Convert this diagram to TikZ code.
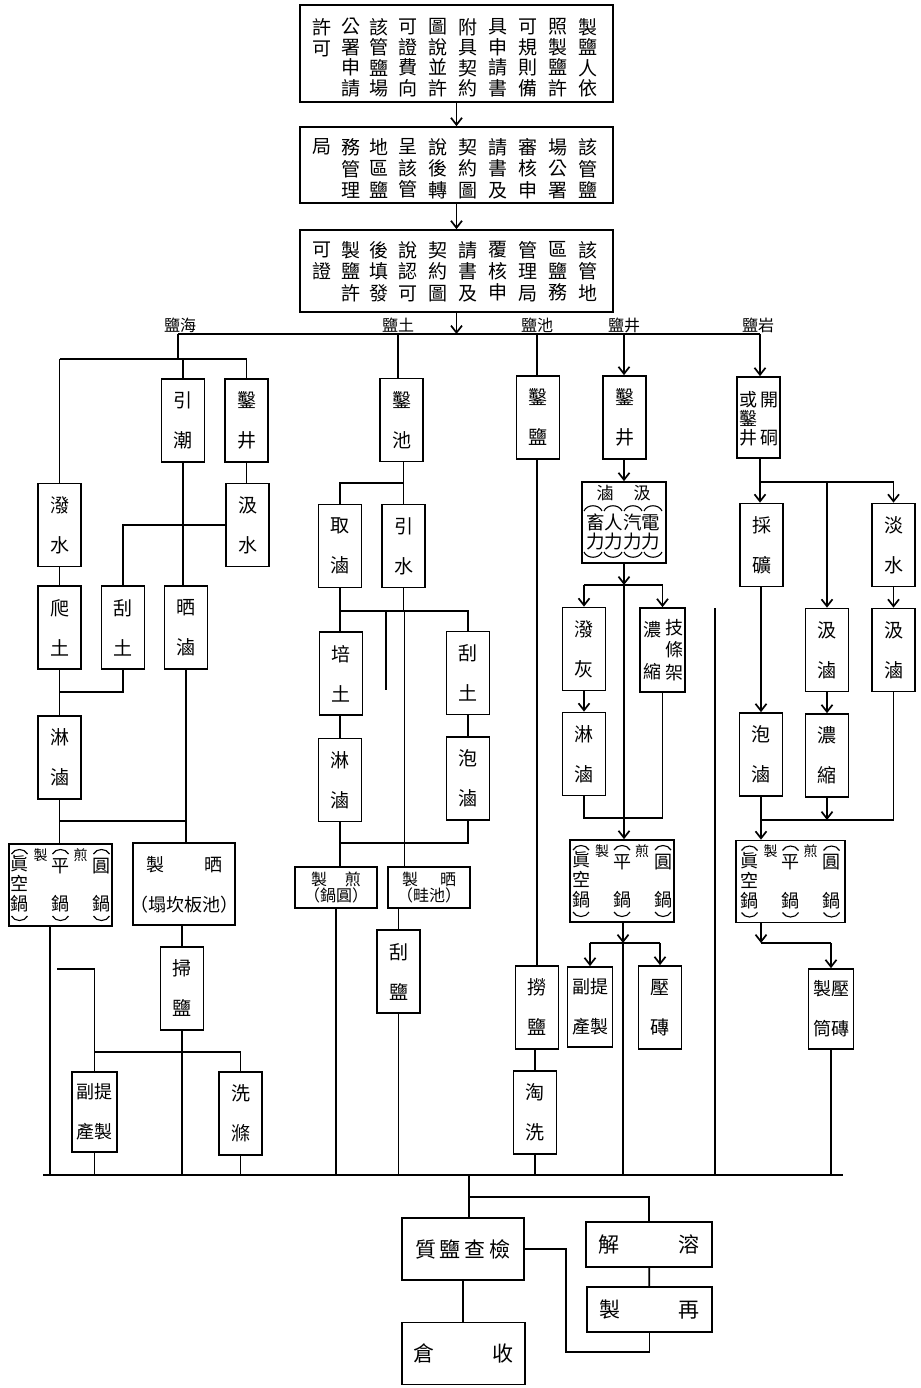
\documentclass[tikz,border=0pt]{standalone}
\usepackage{fontspec}
\setmainfont{Noto Sans CJK TC}
\usetikzlibrary{arrows.meta,calc}
\newcommand\jianbox[4]{%
  \node[bx,minimum width=#4pt,minimum height=82pt] (#1) at (#2,#3) {};
  \begin{scope}[shift={(#2,#3)}]
    \node[ch] (#1a) at (-41,-1) {眞\\空\\鍋};
    \node[ch] (#1b) at (0,-19) {平};
    \node[ch] (#1c) at (0,19) {鍋};
    \node[ch] (#1d) at (41,-19) {圓};
    \node[ch] (#1e) at (41,19) {鍋};
    \node[sm] (#1f) at (-20,-30) {製};
    \node[sm] (#1g) at (20,-30) {煎};
    \foreach \dx in {-41,0,41} {
      \draw[arc] (\dx-8,-31) .. controls (\dx-5,-37) and (\dx+5,-37) .. (\dx+8,-31);
      \draw[arc] (\dx-8,31) .. controls (\dx-5,37) and (\dx+5,37) .. (\dx+8,31);
    }
  \end{scope}}
\begin{document}
\begin{tikzpicture}[x=1pt,y=-1pt,
  ln/.style={line width=1.7pt},
  arr/.style={line width=1.7pt,-{Straight Barb[length=7pt,width=11pt]}},
  bx/.style={draw,line width=1.7pt,inner sep=0pt,align=center},
  v2/.style={bx,minimum width=43pt,minimum height=83pt,font=\fontsize{19}{40}\selectfont},
  q2/.style={bx,minimum width=45pt,minimum height=80pt,font=\fontsize{18}{40}\selectfont},
  col/.style={inner sep=0pt,align=center,font=\fontsize{19}{20.5}\selectfont},
  colb/.style={inner sep=0pt,align=center,font=\fontsize{19}{21.5}\selectfont},
  lbl/.style={inner sep=0pt,font=\fontsize{16}{16}\selectfont},
  ch/.style={inner sep=0pt,align=center,font=\fontsize{18}{20}\selectfont},
  sm/.style={inner sep=0pt,font=\fontsize{14}{14}\selectfont},
  arc/.style={line width=1.1pt},
  hb/.style={bx,font=\fontsize{21}{21}\selectfont}
]
\useasboundingbox (0,0) rectangle (920,1388);

% ---------- top three boxes ----------
\node[bx,minimum width=313pt,minimum height=97pt] (b1) at (456.5,53.5) {};
\node[bx,minimum width=313pt,minimum height=76pt] (b2) at (456.5,165) {};
\node[bx,minimum width=313pt,minimum height=82pt] (b3) at (456.5,271) {};

\foreach \x/\t [count=\i] in {588/{製\\鹽\\人\\依},558/{照\\製\\鹽\\許},528/{可\\規\\則\\備},498/{具\\申\\請\\書},468/{附\\具\\契\\約},438/{圖\\說\\並\\許},408/{可\\證\\費\\向},379/{該\\管\\鹽\\場},351/{公\\署\\申\\請}}
  \node[col] (ba\i) at (\x,57.75) {\t};
\node[col] (ba10) at (322,37.5) {許\\可};

\foreach \x/\t [count=\i] in {588/{該\\管\\鹽},558/{場\\公\\署},528/{審\\核\\申},498/{請\\書\\及},468/{契\\約\\圖},438/{說\\後\\轉},408/{呈\\該\\管},379/{地\\區\\鹽},351/{務\\管\\理}}
  \node[colb] (bb\i) at (\x,168.5) {\t};
\node[colb] (bb10) at (322,147) {局};

\foreach \x/\t [count=\i] in {588/{該\\管\\地},558/{區\\鹽\\務},528/{管\\理\\局},498/{覆\\核\\申},468/{請\\書\\及},438/{契\\約\\圖},408/{說\\認\\可},379/{後\\填\\發},351/{製\\鹽\\許}}
  \node[colb] (bc\i) at (\x,271.5) {\t};
\node[colb] (bc10) at (322,261) {可\\證};

\coordinate (hm) at (456.5,334);
\draw[arr] (b1) -- (b2);
\draw[arr] (b2) -- (b3);
\draw[arr] (b3) -- (hm);

% ---------- main distribution line ----------
\coordinate (hai) at (178,334);
\coordinate (tu) at (398,334);
\coordinate (chi) at (537,334);
\coordinate (jing) at (624,334);
\coordinate (yan) at (760,334);
\draw[ln] (hai) -- (yan);
\node[lbl] (lhai) at (180,325) {鹽海};
\node[lbl] (ltu) at (398,325) {鹽土};
\node[lbl] (lchi) at (537,325) {鹽池};
\node[lbl] (ljing) at (624,325) {鹽井};
\node[lbl] (lyan) at (758,325) {鹽岩};

% ---------- sea salt ----------
\coordinate (hai2) at (178,359);
\draw[ln] (hai) -- (hai2);
\node[v2] (poshui) at (59.5,525) {潑\\水};
\node[v2] (yinchao) at (183,420.5) {引\\潮};
\node[v2] (zaojing1) at (246.5,420.5) {鑿\\井};
\draw[ln] (poshui.north |- hai2) -- (zaojing1.north |- hai2);
\draw[ln] (poshui.north |- hai2) -- (poshui.north);
\draw[ln] (yinchao.north |- hai2) -- (yinchao.north);
\draw[ln] (zaojing1.north |- hai2) -- (zaojing1.north);
\node[v2] (jishui1) at (247.5,525) {汲\\水};
\draw[ln] (zaojing1.south) -- (zaojing1.south |- jishui1.north);
\node[v2] (patu) at (59.5,627.5) {爬\\土};
\node[v2] (guatu1) at (123,627.5) {刮\\土};
\node[v2] (shailu) at (186,627.5) {晒\\滷};
\draw[ln] (poshui) -- (patu);
\draw[ln] (jishui1.west) -| (guatu1.north);
\draw[ln] (yinchao.south) -- (yinchao.south |- shailu.north);
\node[v2] (linlu1) at (59.5,757.5) {淋\\滷};
\draw[ln] (patu) -- (linlu1);
\coordinate (j3) at (59.5,692);
\draw[ln] (guatu1.south) |- (j3);
\jianbox{jian1}{60.5}{885}{103}
\draw[ln] (linlu1.south) -- (linlu1.south |- jian1.north);
\node[bx,minimum width=102pt,minimum height=82pt] (zhishai1) at (184,884) {};
\node[ch] (zs1a) at (155,865) {製};
\node[ch] (zs1b) at (213,865) {晒};
\node[ch] (zs1c) at (184,905) {（塌坎板池）};
\draw[ln] (shailu.south) -- (shailu.south |- zhishai1.north);
\coordinate (j4) at (186,821);
\draw[ln] (linlu1.south |- j4) -- (j4);
\node[v2] (saoyan) at (182,988.5) {掃\\鹽};
\draw[ln] (zhishai1.south -| saoyan) -- (saoyan.north);
\node[q2] (futi1) at (94.5,1112) {副提\\產製};
\node[v2] (xidi) at (240.5,1113.5) {洗\\滌};
\coordinate (j5) at (182,1052);
\coordinate (bot) at (43,1175);
\coordinate (botR) at (843,1175);
\draw[ln] (bot) -- (botR);
\draw[ln] (saoyan.south) -- (j5);
\draw[ln] (futi1.north |- j5) -- (xidi.north |- j5);
\draw[ln] (xidi.north |- j5) -- (xidi.north);
\draw[ln] (j5) -- (j5 |- bot);
\coordinate (s1) at (57,969);
\draw[ln] (s1) -| (futi1.north);
\draw[ln] (futi1.south) -- (futi1.south |- bot);
\draw[ln] (xidi.south) -- (xidi.south |- bot);
\coordinate (x50) at (50,1175);
\draw[ln] (jian1.south -| x50) -- (x50);

% ---------- earth salt ----------
\node[v2] (zaochi) at (401.5,420) {鑿\\池};
\draw[ln] (tu) -- (tu |- zaochi.north);
\node[v2] (qulu) at (340,546) {取\\滷};
\node[v2] (yinshui) at (403.5,546) {引\\水};
\draw[ln] (zaochi.south -| yinshui) -- (yinshui.north);
\coordinate (j6) at (403.5,483);
\draw[ln] (j6) -| (qulu.north);
\node[v2] (peitu) at (341,673.5) {培\\土};
\node[v2] (guatu2) at (468,673) {刮\\土};
\draw[ln] (qulu.south) -- (qulu.south |- peitu.north);
\coordinate (j7) at (404.5,611);
\draw[ln] (yinshui.south) -- (yinshui.south |- j7);
\draw[ln] (qulu.south |- j7) -- (guatu2.north |- j7) -- (guatu2.north);
\coordinate (s2) at (386,611);
\coordinate (s2e) at (386,690);
\draw[ln] (s2) -- (s2e);
\node[v2] (linlu2) at (340,780) {淋\\滷};
\draw[ln] (peitu.south -| linlu2) -- (linlu2.north);
\node[v2] (paolu1) at (468,778.5) {泡\\滷};
\draw[ln] (guatu2) -- (paolu1);
\coordinate (j8) at (340,843);
\draw[ln] (linlu2.south) -- (j8) -- (j8 -| paolu1) -- (paolu1.south);
\node[bx,minimum width=82pt,minimum height=41pt,font=\fontsize{16}{16}\selectfont] (zhijian2) at (336,887.5) {製\hskip18pt 煎\\（鍋圓）};
\draw[ln] (j8) -- (j8 |- zhijian2.north);
\node[bx,minimum width=82pt,minimum height=41pt,font=\fontsize{16}{16}\selectfont] (zhishai2) at (429,887.5) {製\hskip22pt 晒\\（畦池）};
\draw[ln] (j7) -- (j7 |- zhishai2.north);
\node[v2] (guayan) at (398.5,971.5) {刮\\鹽};
\draw[ln] (zhishai2.south -| guayan) -- (guayan.north);
\draw[ln] (guayan.south) -- (guayan.south |- bot);
\draw[ln] (zhijian2.south) -- (zhijian2.south |- bot);

% ---------- lake salt ----------
\node[v2] (zaoyan) at (538,417.5) {鑿\\鹽};
\draw[ln] (chi) -- (chi |- zaoyan.north);
\node[v2] (laoyan) at (537,1007.5) {撈\\鹽};
\draw[ln] (zaoyan.south -| laoyan) -- (laoyan.north);
\node[v2] (taoxi) at (535,1112.5) {淘\\洗};
\draw[ln] (laoyan.south -| taoxi) -- (taoxi.north);
\draw[ln] (taoxi.south) -- (taoxi.south |- bot);

% ---------- well salt ----------
\node[v2] (zaojing2) at (624.5,417.5) {鑿\\井};
\draw[arr] (jing) -- (jing |- zaojing2.north);
\node[bx,minimum width=84pt,minimum height=81pt] (jilu) at (624,522.5) {};
\node[ch,font=\fontsize{17}{17}\selectfont] (jla) at (605,493) {滷};
\node[ch,font=\fontsize{17}{17}\selectfont] (jlb) at (642,493) {汲};
\node[ch,font=\fontsize{18.5}{18.5}\selectfont] (jlc) at (623,532) {畜人汽電\\力力力力};
\foreach \ax in {593,613,633,653} {
  \draw[arc] (\ax-9,511) .. controls (\ax-6,504) and (\ax+6,504) .. (\ax+9,511);
  \draw[arc] (\ax-9,552) .. controls (\ax-6,559) and (\ax+6,559) .. (\ax+9,552);
}
\draw[arr] (zaojing2.south -| jilu) -- (jilu.north);
\coordinate (j9) at (624,585);
\draw[arr] (jilu.south) -- (j9);
\node[v2] (pohui) at (584,649) {潑\\灰};
\node[bx,minimum width=45pt,minimum height=84pt] (nongsuo1) at (662.5,650) {};
\node[ch,font=\fontsize{18}{22.5}\selectfont] (nsa) at (674,650) {技\\條\\架};
\node[ch] (nsb) at (652,630) {濃};
\node[ch] (nsc) at (652,672) {縮};
\draw[ln] (pohui.north |- j9) -- (nongsuo1.north |- j9);
\draw[arr] (pohui.north |- j9) -- (pohui.north);
\draw[arr] (nongsuo1.north |- j9) -- (nongsuo1.north);
\node[v2] (linlu3) at (584,754) {淋\\滷};
\draw[arr] (pohui) -- (linlu3);
\coordinate (j10) at (584,818);
\draw[ln] (linlu3.south) -- (j10) -- (j10 -| nongsuo1) -- (nongsuo1.south);
\jianbox{jian2}{622}{881}{104}
\draw[arr] (j9) -- (j9 |- jian2.north);
\coordinate (j11) at (623,943);
\draw[arr] (jian2.south -| j11) -- (j11);
\node[q2] (futi2) at (590,1007) {副提\\產製};
\node[v2] (yazhuan) at (660,1007.5) {壓\\磚};
\draw[ln] (futi2.north |- j11) -- (yazhuan.north |- j11);
\draw[arr] (futi2.north |- j11) -- (futi2.north);
\draw[arr] (yazhuan.north |- j11) -- (yazhuan.north);
\draw[ln] (j11) -- (j11 |- bot);
\coordinate (s3) at (715,608);
\draw[ln] (s3) -- (s3 |- bot);

% ---------- rock salt ----------
\node[bx,minimum width=43pt,minimum height=81pt] (kaizao) at (758.5,417.5) {};
\node[ch,font=\fontsize{18}{19}\selectfont] (kza) at (748,419) {或\\鑿\\井};
\node[ch] (kzb) at (769,400) {開};
\node[ch] (kzc) at (769,438) {硐};
\draw[arr] (yan) -- (yan |- kaizao.north);
\node[v2] (caikuang) at (761.5,545) {採\\礦};
\node[v2] (danshui) at (893.5,545) {淡\\水};
\coordinate (j12) at (760,482);
\draw[ln] (kaizao.south -| j12) -- (j12) -- (j12 -| danshui);
\draw[arr] (j12) -- (j12 |- caikuang.north);
\node[v2] (jilu2) at (827,650) {汲\\滷};
\node[v2] (jilu3) at (893.5,650) {汲\\滷};
\draw[arr] (j12 -| jilu2) -- (jilu2.north);
\draw[arr] (j12 -| danshui) -- (danshui.north);
\draw[arr] (danshui) -- (jilu3);
\node[v2] (nongsuo2) at (827,755.5) {濃\\縮};
\draw[arr] (jilu2) -- (nongsuo2);
\node[v2] (paolu2) at (761,754.5) {泡\\滷};
\draw[arr] (caikuang.south -| paolu2) -- (paolu2.north);
\coordinate (j13) at (761,820);
\draw[arr] (nongsuo2.south) -- (nongsuo2.south |- j13);
\draw[ln] (j13) -- (j13 -| jilu3) -- (jilu3.south);
\jianbox{jian3}{790.5}{881.5}{109}
\draw[arr] (paolu2.south) -- (paolu2.south |- jian3.north);
\coordinate (j14) at (761,943);
\draw[arr] (jian3.south -| j14) -- (j14);
\node[q2] (yazhi) at (831,1009) {製壓\\筒磚};
\draw[ln] (j14) -- (j14 -| yazhi);
\draw[arr] (j14 -| yazhi) -- (yazhi.north);
\draw[ln] (yazhi.south) -- (yazhi.south |- bot);

% ---------- final stage ----------
\coordinate (bc) at (469,1175);
\coordinate (bc2) at (469,1197);
\node[hb,minimum width=122pt,minimum height=62pt] (zhiyan) at (463,1249) {質\hskip4pt 鹽\hskip4pt 查\hskip4pt 檢};
\draw[ln] (bc) -- (bc |- zhiyan.north);
\node[hb,minimum width=126pt,minimum height=45pt] (rongjie) at (649,1244.5) {解\hskip59pt 溶};
\draw[ln] (bc2) -| (rongjie.north);
\node[hb,minimum width=125pt,minimum height=45pt] (zaizhi) at (649.5,1309.5) {製\hskip59pt 再};
\draw[ln] (rongjie) -- (zaizhi);
\node[hb,minimum width=123pt,minimum height=62pt] (shoucang) at (463.5,1353.5) {倉\hskip59pt 收};
\draw[ln] (zhiyan.south) -- (zhiyan.south |- shoucang.north);
\coordinate (lp) at (566,1352);
\draw[ln] (zhiyan.east) -| (lp) -| (zaizhi.south);
\end{tikzpicture}
\end{document}
